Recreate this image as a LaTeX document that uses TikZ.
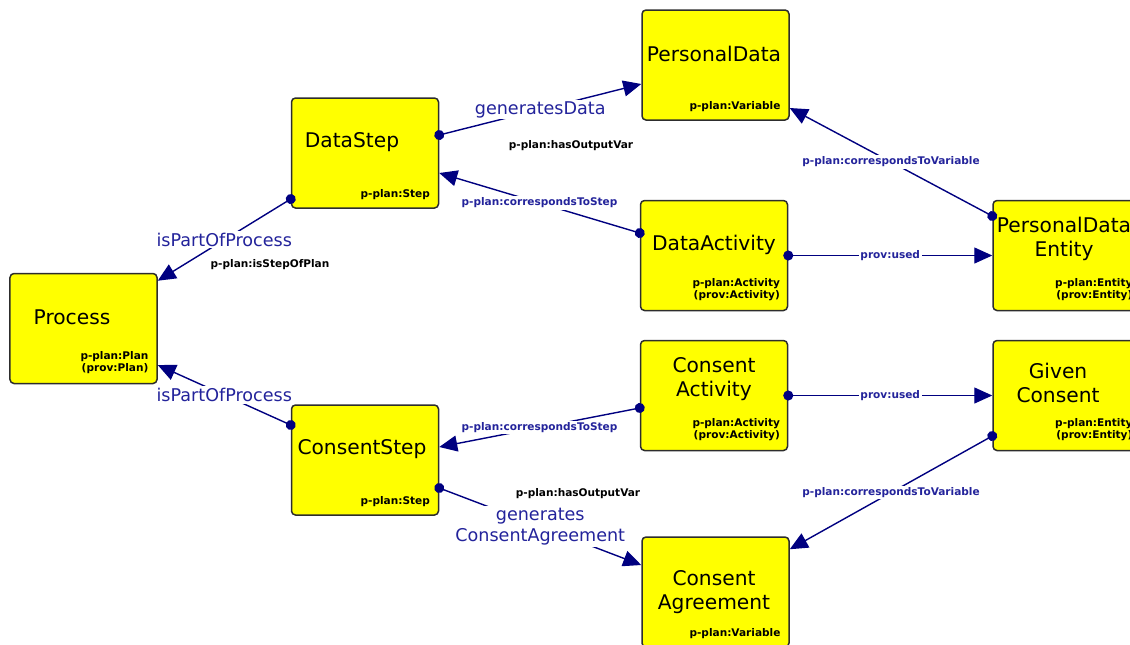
\documentclass[tikz,border=0pt]{standalone}
\usepackage{fontspec}
\setmainfont{DejaVu Sans}
\usetikzlibrary{arrows.meta}
\definecolor{edgeblue}{RGB}{0,0,128}
\definecolor{lblblue}{RGB}{35,35,155}
\definecolor{boxfill}{RGB}{255,255,0}
\definecolor{boxline}{RGB}{45,45,45}

\tikzset{
  box/.style={draw=boxline, line width=0.3mm, fill=boxfill, rounded corners=0.8mm,
    minimum width=29.4mm, minimum height=22mm, inner sep=0pt},
  title/.style={font=\fontsize{11.5}{13.7}\selectfont, align=center, inner sep=0pt},
  kind/.style={font=\fontsize{6}{7}\selectfont\bfseries, align=right, inner sep=0pt, anchor=south east},
  rel/.style={draw=edgeblue, line width=0.28mm,
    {Circle[length=2mm]}-{Triangle[length=3.6mm,width=3.2mm]}, shorten <=-1mm},
  biglbl/.style={font=\fontsize{10}{12}\selectfont, text=lblblue, fill=white, inner sep=1pt, align=center},
  smalllbl/.style={font=\fontsize{6}{7}\selectfont\bfseries, text=lblblue, fill=white, inner sep=1pt},
  note/.style={font=\fontsize{6}{7}\selectfont\bfseries, text=black, inner sep=0pt},
}

\begin{document}
\begin{tikzpicture}[x=0.2mm, y=-0.2mm]
  \useasboundingbox (0,0) rectangle (1130,644);

  % boxes
  \node[box] (pd)   at (715.5,65)    {};
  \node[box] (ds)   at (365,153)     {};
  \node[box] (pr)   at (83.5,328.5)  {};
  \node[box] (da)   at (714,255.5)   {};
  \node[box] (pde)  at (1066.5,255.5){};
  \node[box] (cact) at (714,395.5)   {};
  \node[box] (gc)   at (1066.5,395.5){};
  \node[box] (cs)   at (365,460)     {};
  \node[box] (ca)   at (715.5,592)   {};

  % names inside the boxes
  \node[title] (pdt)   at (714,54)   {PersonalData};
  \node[title] (dst)   at (352,142)  {DataStep};
  \node[title] (prt)   at (72,317)   {Process};
  \node[title] (dat)   at (714,245)  {DataActivity};
  \node[title] (pdet)  at (1064,239) {PersonalData\\Entity};
  \node[title] (cactt) at (714,379)  {Consent\\Activity};
  \node[title] (gct)   at (1058,383) {Given\\Consent};
  \node[title] (cst)   at (362,449)  {ConsentStep};
  \node[title] (cat)   at (714,592)  {Consent\\Agreement};

  % class annotations
  \node[kind] (pdk)   at ([xshift=-1.8mm,yshift=1.8mm]pd.south east)   {p-plan:Variable};
  \node[kind] (dsk)   at ([xshift=-1.8mm,yshift=1.8mm]ds.south east)   {p-plan:Step};
  \node[kind] (prk)   at ([xshift=-1.8mm,yshift=2mm]pr.south east)     {p-plan:Plan\\(prov:Plan)};
  \node[kind] (dak)   at ([xshift=-1.6mm,yshift=2mm]da.south east)     {p-plan:Activity\\(prov:Activity)};
  \node[kind] (pdek)  at ([xshift=-1.6mm,yshift=2mm]pde.south east)    {p-plan:Entity\\(prov:Entity)};
  \node[kind] (cactk) at ([xshift=-1.6mm,yshift=2mm]cact.south east)   {p-plan:Activity\\(prov:Activity)};
  \node[kind] (gck)   at ([xshift=-1.6mm,yshift=2mm]gc.south east)     {p-plan:Entity\\(prov:Entity)};
  \node[kind] (csk)   at ([xshift=-1.8mm,yshift=1.8mm]cs.south east)   {p-plan:Step};
  \node[kind] (cak)   at ([xshift=-1.8mm,yshift=1.8mm]ca.south east)   {p-plan:Variable};

  % relations
  \draw[rel] ([yshift=3.6mm]ds.east) -- node[biglbl] (l1) {generatesData} ([yshift=-3.8mm]pd.west);
  \draw[rel] ([yshift=4.5mm]da.west) -- node[smalllbl] (l2) {p-plan:correspondsToStep} ([yshift=-4mm]ds.east);
  \draw[rel] ([yshift=-9.2mm]ds.west) -- node[biglbl] (l3) {isPartOfProcess} ([yshift=-1.6mm]pr.north east);
  \draw[rel] ([yshift=7mm]cs.west) -- node[biglbl] (l4) {isPartOfProcess} ([yshift=-7.3mm]pr.east);
  \draw[rel] ([yshift=-2.5mm]cact.west) -- node[smalllbl] (l5) {p-plan:correspondsToStep} ([yshift=2.6mm]cs.east);
  \draw[rel] ([yshift=-5.6mm]cs.east) -- node[biglbl] (l6) {generates\\ConsentAgreement} ([yshift=5.4mm]ca.west);
  \draw[rel] ([yshift=7.9mm]pde.west) -- node[smalllbl] (l7) {p-plan:correspondsToVariable} ([yshift=-8.6mm]pd.east);
  \draw[rel] ([yshift=-8.1mm]gc.west) -- node[smalllbl] (l8) {p-plan:correspondsToVariable} ([yshift=-2.6mm]ca.north east);
  \draw[rel] (da.east) -- node[smalllbl] (l9) {prov:used} (pde.west);
  \draw[rel] (cact.east) -- node[smalllbl] (l10) {prov:used} (gc.west);

  % property names under the labels
  \node[note] (n1) at (571,146) {p-plan:hasOutputVar};
  \node[note] (n2) at (270,265) {p-plan:isStepOfPlan};
  \node[note] (n3) at (578,494) {p-plan:hasOutputVar};
\end{tikzpicture}
\end{document}
